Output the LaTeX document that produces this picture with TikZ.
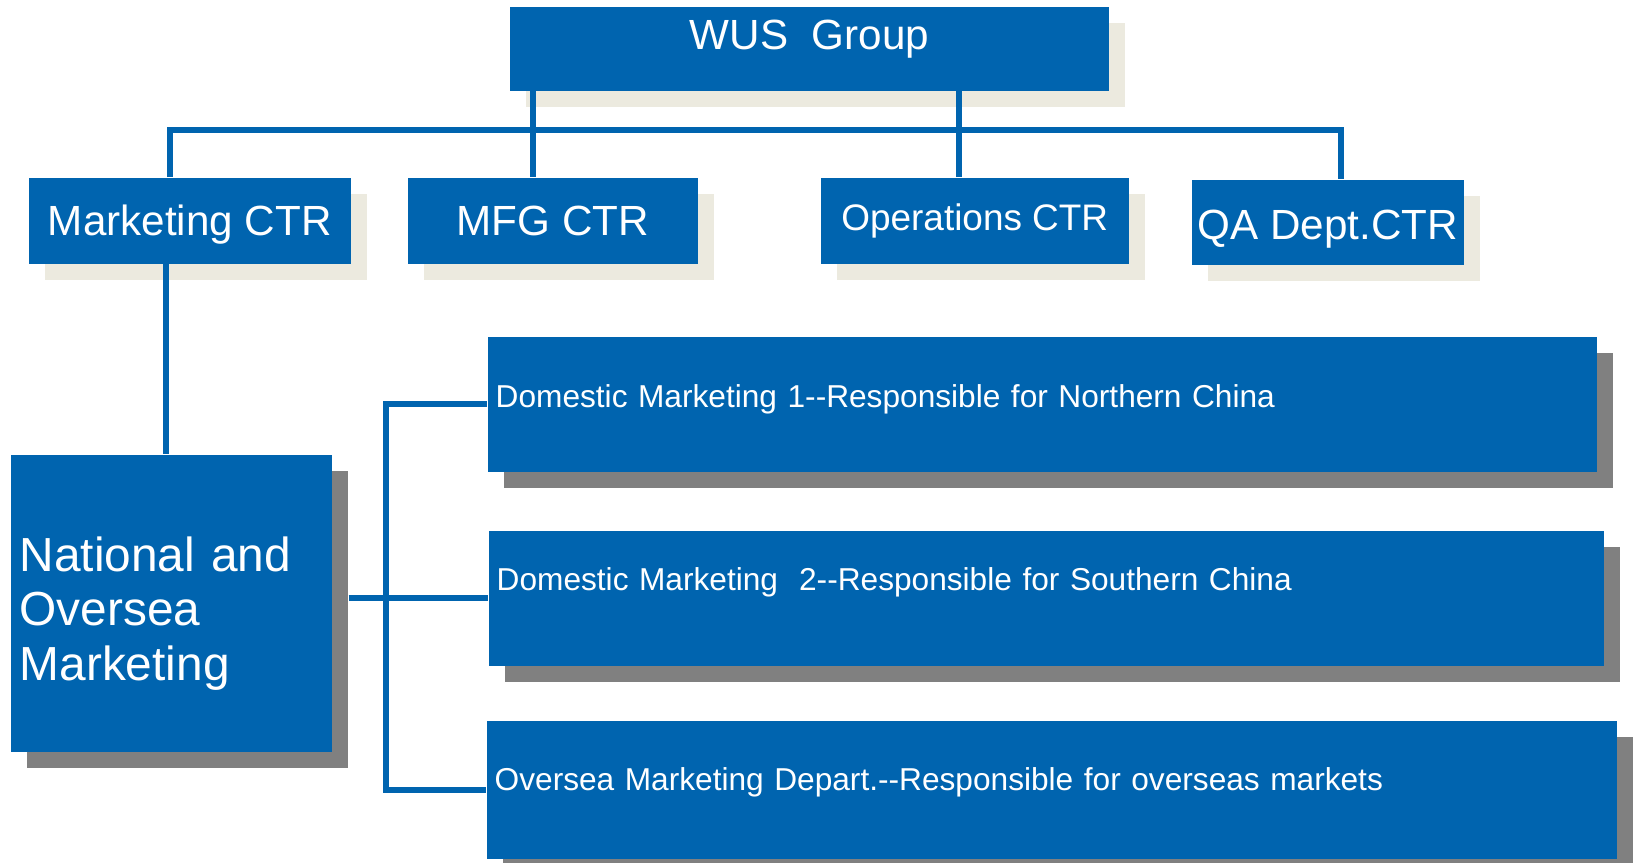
\documentclass[tikz,border=0pt]{standalone}
\usepackage{fontspec}
\setmainfont{Liberation Sans}
\usetikzlibrary{shadows,calc}
\definecolor{orgblue}{HTML}{0064AF}
\definecolor{paleshade}{HTML}{ECEADF}
\definecolor{darkshade}{HTML}{808080}
\tikzset{
  unitbox/.style={fill=orgblue, text=white, anchor=north west, inner sep=0pt},
  ctrbox/.style={unitbox, font=\fontsize{12}{14}\selectfont,
    copy shadow={shadow xshift=0.16cm, shadow yshift=-0.16cm, fill=paleshade, draw=none}},
  deptbox/.style={unitbox, align=left, inner xsep=0.08cm, font=\fontsize{9}{11}\selectfont,
    copy shadow={shadow xshift=0.16cm, shadow yshift=-0.16cm, fill=darkshade, draw=none}},
  link/.style={draw=orgblue, line width=1.8pt}
}
\begin{document}
\begin{tikzpicture}[x=0.01cm, y=-0.01cm]
    \useasboundingbox (0,0) rectangle (1635,863);

    \node[ctrbox, minimum width=5.99cm, text height=0.43cm, text depth=0.41cm] (wus) at (509,6) {WUS~~Group};
    \node[ctrbox, minimum width=3.22cm, text height=0.58cm, text depth=0.28cm] (mkt) at (28,177) {Marketing CTR};
    \node[ctrbox, minimum width=2.90cm, text height=0.58cm, text depth=0.28cm] (mfg) at (407,177) {MFG CTR};
    \node[ctrbox, minimum width=3.08cm, text height=0.53cm, text depth=0.33cm, font=\fontsize{10.5}{12}\selectfont] (ops) at (820,177) {Operations CTR};
    \node[ctrbox, minimum width=2.72cm, text height=0.60cm, text depth=0.25cm] (qa) at (1191,179) {QA Dept.CTR};

    \node[deptbox, text width=3.03cm, inner xsep=0.09cm, text height=1.17cm, text depth=1.80cm, font=\fontsize{13.6}{15.4}\selectfont] (natl) at (10,454) {National and\\Oversea\\Marketing};

    \node[deptbox, text width=10.93cm, text height=0.71cm, text depth=0.64cm] (dom1) at (487,336) {Domestic Marketing 1-{}-Responsible for Northern China};
    \node[deptbox, text width=10.99cm, text height=0.60cm, text depth=0.75cm] (dom2) at (488,530) {Domestic Marketing~ 2-{}-Responsible for Southern China};
    \node[deptbox, text width=11.14cm, text height=0.70cm, text depth=0.68cm] (ovs) at (486,720) {Oversea Marketing Depart.-{}-Responsible for overseas markets};

    \coordinate (bus) at (760,130);
    \coordinate (fork) at (386,596);

    \draw[link] ($(mkt.north)+(-20,0)$) |- (bus) -| ($(qa.north)+(13,0)$);
    \draw[link] ($(mfg.north)+(-20,0)$) coordinate (m1) -- (m1 |- wus.south);
    \draw[link] ($(ops.north)+(-16,0)$) coordinate (o1) -- (o1 |- wus.south);
    \draw[link] ($(mkt.south)+(-24,0)$) coordinate (m2) -- (m2 |- natl.north);
    \draw[link] ($(natl.east |- dom2.west)+(16,0)$) -- (dom2.west);
    \draw[link] (dom1.west) -| (fork) |- (ovs.west);
\end{tikzpicture}
\end{document}
